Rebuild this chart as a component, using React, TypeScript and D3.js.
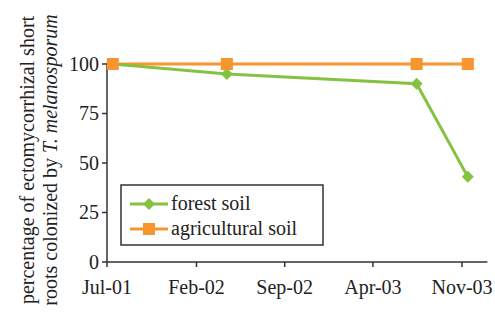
import React from "react";
import * as d3 from "d3";

const dates = ["2001-07-15", "2002-04-15", "2003-07-15", "2003-11-15"];
const forestSoil = [100, 95, 90, 43];
const agriculturalSoil = [100, 100, 100, 100];
const yTicks = [0, 25, 50, 75, 100];
const xTickDates = ["2001-07-01", "2002-02-01", "2002-09-01", "2003-04-01", "2003-11-01"];
const xTickLabels = ["Jul-01", "Feb-02", "Sep-02", "Apr-03", "Nov-03"];
const seriesNames = ["forest soil", "agricultural soil"];

const GREEN = "#86c242";
const ORANGE = "#f7962f";
const AXIS = "#333";

export default function App() {
  const W = 495, H = 324;
  const parse = d3.timeParse("%Y-%m-%d");
  const x0 = 107, xNov = 462;
  const x = d3.scaleTime()
    .domain([parse("2001-07-01")!, parse("2003-11-01")!])
    .range([x0, xNov]);
  const xEnd = x(parse("2004-01-01")!);
  const y = d3.scaleLinear().domain([0, 100]).range([262, 64]);
  const pts = (vals: number[]) => vals.map((v, i) => [x(parse(dates[i])!), y(v)] as [number, number]);
  const line = d3.line();
  const fp = pts(forestSoil);
  const ap = pts(agriculturalSoil);
  const diamond = (cx: number, cy: number, r: number) =>
    `M${cx},${cy - r}L${cx + r},${cy}L${cx},${cy + r}L${cx - r},${cy}Z`;
  const ts: React.CSSProperties = { fontFamily: '"Liberation Serif", "Times New Roman", serif', fontSize: 20 };

  return (
    <div style={{ position: "absolute", left: 0, top: 0 }}>
      <svg width={W} height={H}>
        <style>{`text { font-family: "Liberation Serif", "Times New Roman", serif; font-size: 20px; fill: #222; }`}</style>
        <rect x={0} y={0} width={W} height={H} fill="#fff" />
        <line x1={x0} y1={y(100) - 1} x2={x0} y2={y(0)} stroke={AXIS} strokeWidth={1.5} />
        <line x1={x0} y1={y(0)} x2={xEnd} y2={y(0)} stroke={AXIS} strokeWidth={1.5} />
        {yTicks.map((t) => (
          <g key={t}>
            <line x1={x0 - 5} x2={x0} y1={y(t)} y2={y(t)} stroke={AXIS} strokeWidth={1.5} />
            <text x={x0 - 8} y={y(t)} dy="0.34em" textAnchor="end" style={ts}>{t}</text>
          </g>
        ))}
        {xTickDates.map((d, i) => {
          const xx = x(parse(d)!);
          return (
            <g key={d}>
              <line x1={xx} x2={xx} y1={y(0)} y2={y(0) + 5} stroke={AXIS} strokeWidth={1.5} />
              <text x={xx} y={y(0) + 32} textAnchor="middle" style={ts}>{xTickLabels[i]}</text>
            </g>
          );
        })}
        <g transform="translate(0,160) rotate(-90)">
          <text x={0} y={34} textAnchor="middle" style={ts}>percentage of ectomycorrhizal short</text>
          <text x={0} y={57} textAnchor="middle" style={ts}>
            roots colonized by <tspan fontStyle="italic">T. melanosporum</tspan>
          </text>
        </g>
        <path d={line(ap)!} fill="none" stroke={ORANGE} strokeWidth={3} />
        <path d={line(fp)!} fill="none" stroke={GREEN} strokeWidth={3} />
        {fp.map(([cx, cy], i) => <path key={"f" + i} d={diamond(cx, cy, 6)} fill={GREEN} />)}
        {ap.map(([cx, cy], i) => <rect key={"a" + i} x={cx - 6} y={cy - 6} width={12} height={12} fill={ORANGE} />)}
        <rect x={121} y={185} width={202} height={60} fill="#fff" stroke={AXIS} strokeWidth={1.5} />
        <line x1={130} x2={168} y1={204} y2={204} stroke={GREEN} strokeWidth={3} />
        <path d={diamond(149, 204, 6)} fill={GREEN} />
        <text x={171} y={204} dy="0.32em" style={ts}>{seriesNames[0]}</text>
        <line x1={130} x2={168} y1={229} y2={229} stroke={ORANGE} strokeWidth={3} />
        <rect x={143} y={223} width={12} height={12} fill={ORANGE} />
        <text x={171} y={229} dy="0.32em" style={ts}>{seriesNames[1]}</text>
      </svg>
    </div>
  );
}
